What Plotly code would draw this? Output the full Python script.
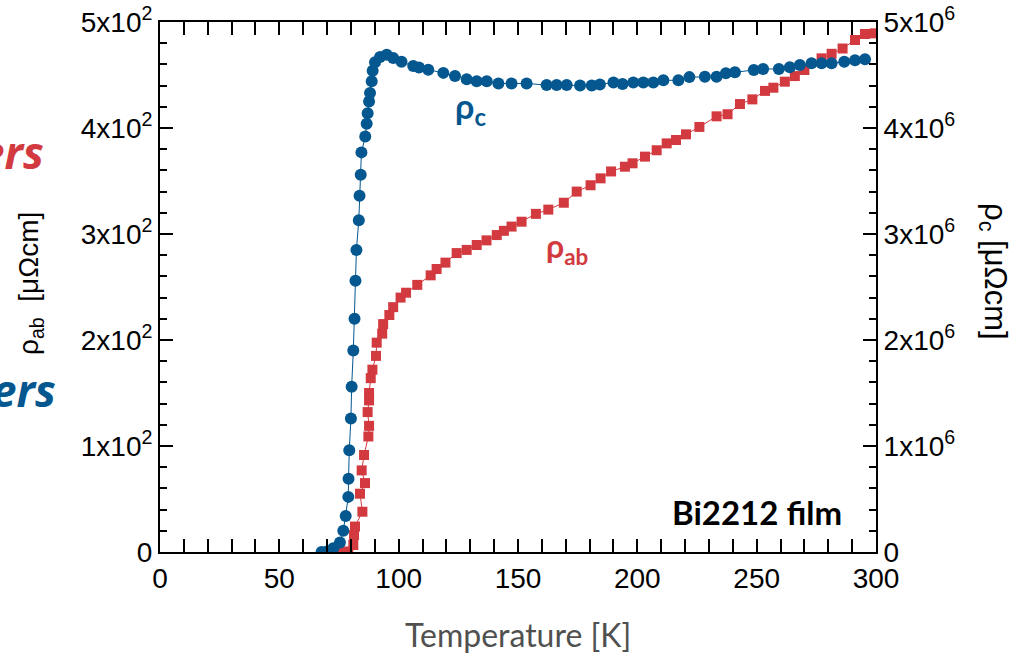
import plotly.graph_objects as go

# rho_c (blue, right axis, in uOhm cm) -- read in left-axis units then scaled x1e4
T_c = [67.7, 70.0, 72.6, 75.4, 76.8, 77.8, 78.9, 79.0, 79.3, 80.0, 80.3, 81.0, 81.5, 81.9, 82.3,
       83.3, 83.6, 84.1, 84.4, 86.0, 86.6, 87.0, 87.6, 88.0, 88.7, 89.1, 90.1, 92.2, 95.0, 97.7,
       101.2, 106.1, 108.5, 112.4, 118.7, 123.6, 128.5, 132.7, 136.9, 141.8, 147.3, 153.6, 162.0,
       166.2, 170.4, 176.0, 180.9, 184.3, 190.0, 193.8, 198.3, 202.5, 206.7, 210.9, 217.2, 221.8,
       228.3, 233.2, 237.1, 240.9, 248.8, 252.7, 259.3, 263.9, 268.1, 273.0, 277.2, 281.4, 286.7,
       291.2, 295.4]
rho_c_e4 = [0, 0.5, 3.5, 9, 20, 34, 52, 69, 96, 126, 156, 190, 220, 256, 285,
            313, 336, 356, 377, 392, 404, 414, 425, 433, 444, 454, 462, 467, 469, 466,
            462.5, 458.5, 457, 455, 452, 449, 446, 444, 444, 442, 442, 442, 440.5,
            440.5, 440.5, 440, 440, 441, 443, 441.5, 443, 443, 443, 445, 445, 448,
            448.4, 448.4, 451.6, 452.5, 454.7, 455.7, 455.7, 457.3, 459.4, 461, 461, 461, 462.5,
            464, 464.8]
rho_c = [v * 1e4 for v in rho_c_e4]

# rho_ab (red, left axis, uOhm cm)
T_ab = [72.0, 74.5, 76.1, 78.9, 81.0, 81.3, 81.7, 84.8, 83.8, 85.9, 84.5, 85.5, 87.3, 87.6, 87.0,
        87.6, 87.6, 88.3, 89.0, 90.5, 90.8, 93.1, 93.5, 96.1, 97.7, 100.8, 103.1, 107.8, 113.4,
        115.9, 119.6, 124.3, 128.5, 132.7, 136.8, 141.1, 144.1, 147.3, 151.5, 157.5, 162.7, 169.2,
        174.6, 180.4, 184.6, 189.0, 194.8, 198.0, 203.2, 208.1, 212.3, 216.2, 220.4, 226.0, 233.2,
        237.8, 243.0, 248.2, 253.5, 257.0, 261.8, 266.0, 270.0, 277.2, 281.4, 286.0, 291.2, 295.4,
        299.5]
rho_ab = [0, 0, 0, 0.5, 6.6, 16, 24, 38, 55, 65, 77, 91.5, 109, 119, 132,
          143, 150, 164, 172, 185, 197.5, 206, 215, 223.6, 231, 240, 244.6, 252, 261,
          267, 273, 282, 285, 289.6, 294, 299, 303, 307, 311.6, 319, 323, 329.5,
          340, 346, 352.5, 359, 363.5, 366.7, 373, 379, 385.5, 388.7, 394, 401, 411,
          413, 422.6, 427, 435, 438, 443.7, 449, 454.7, 465.7, 470, 475, 483, 488.7,
          489.3]

x_ticks = [0, 50, 100, 150, 200, 250, 300]
y_left_ticks = [0, 100, 200, 300, 400, 500]
y_left_text = ["0", "1x10<sup>2</sup>", "2x10<sup>2</sup>", "3x10<sup>2</sup>", "4x10<sup>2</sup>", "5x10<sup>2</sup>"]
y_right_ticks = [0, 1e6, 2e6, 3e6, 4e6, 5e6]
y_right_text = ["0", "1x10<sup>6</sup>", "2x10<sup>6</sup>", "3x10<sup>6</sup>", "4x10<sup>6</sup>", "5x10<sup>6</sup>"]

BLUE = "#04578F"
RED = "#D23A40"

fig = go.Figure()
fig.add_trace(go.Scatter(x=T_ab, y=rho_ab, mode="lines+markers", yaxis="y",
                         line=dict(color=RED, width=1),
                         marker=dict(symbol="square", size=10, color=RED),
                         showlegend=False))
fig.add_trace(go.Scatter(x=T_c, y=rho_c, mode="lines+markers", yaxis="y2",
                         line=dict(color=BLUE, width=1),
                         marker=dict(symbol="circle", size=12, color=BLUE),
                         showlegend=False))

ARIAL = "Liberation Sans"
tickfont = dict(family=ARIAL, size=28, color="black")
minor_x = dict(dtick=10, ticks="inside", ticklen=7, tickwidth=1.5, tickcolor="black")
fig.update_layout(
    width=1019, height=653,
    margin=dict(l=160, r=143, t=22, b=101, autoexpand=False),
    paper_bgcolor="white", plot_bgcolor="white",
    xaxis=dict(range=[0, 300], tickvals=x_ticks, ticks="inside", ticklen=13, tickwidth=2,
               tickcolor="black", showline=True, linecolor="black", linewidth=2,
               mirror="allticks", showgrid=False, zeroline=False, tickfont=tickfont,
               automargin=False, minor=minor_x),
    yaxis=dict(range=[0, 500], tickvals=y_left_ticks, ticktext=y_left_text, ticks="inside",
               ticklen=13, tickwidth=2, tickcolor="black", showline=True, linecolor="black",
               linewidth=2, showgrid=False, zeroline=False, tickfont=tickfont, automargin=False,
               minor=dict(dtick=20, ticks="inside", ticklen=7, tickwidth=1.5, tickcolor="black")),
    yaxis2=dict(range=[0, 5e6], overlaying="y", side="right", tickvals=y_right_ticks,
                ticktext=y_right_text, ticks="inside", ticklen=13, tickwidth=2, tickcolor="black",
                showline=True, linecolor="black", linewidth=2, showgrid=False, zeroline=False,
                tickfont=tickfont, automargin=False,
                minor=dict(dtick=2e5, ticks="inside", ticklen=7, tickwidth=1.5, tickcolor="black")),
)

# plot area in pixels: x 160..876, y 22..552
def px(xp):
    return (xp - 160) / 716.0

def py(yp):
    return (552 - yp) / 530.0

cal = "Lato"
ann = [
    dict(x=130, y=419, xref="x", yref="y", text="<b>ρ<sub>c</sub></b>", showarrow=False,
         font=dict(family=cal, size=34, color=BLUE)),
    dict(x=170.5, y=287, xref="x", yref="y", text="<b>ρ<sub>ab</sub></b>", showarrow=False,
         font=dict(family=cal, size=32, color=RED)),
    dict(x=250, y=38, xref="x", yref="y", text="<b>Bi2212 film</b>", showarrow=False,
         font=dict(family=cal, size=33, color="black")),
    dict(x=px(30), y=py(284), xref="paper", yref="paper", text="ρ<sub>ab</sub>&nbsp; [μΩcm]",
         textangle=-90, showarrow=False, xanchor="center", yanchor="middle",
         font=dict(family=ARIAL, size=28, color="black")),
    dict(x=px(993), y=py(272), xref="paper", yref="paper", text="ρ<sub>c</sub> [μΩcm]",
         textangle=90, showarrow=False, xanchor="center", yanchor="middle",
         font=dict(family=ARIAL, size=31, color="black")),
    dict(x=px(518), y=py(634), xref="paper", yref="paper", text="Temperature [K]",
         showarrow=False, xanchor="center", yanchor="middle",
         font=dict(family=cal, size=32, color="#505050")),
    dict(x=px(46), y=py(152), xref="paper", yref="paper", text="<b><i>ers</i></b>",
         showarrow=False, xanchor="right", yanchor="middle",
         font=dict(family="Open Sans", size=44, color=RED)),
    dict(x=px(58), y=py(390), xref="paper", yref="paper", text="<b><i>ers</i></b>",
         showarrow=False, xanchor="right", yanchor="middle",
         font=dict(family="Open Sans", size=44, color=BLUE)),
]
fig.update_layout(annotations=ann)

fig.write_html("out.html", config={"displayModeBar": False},
               post_script="document.documentElement.style.margin='0';"
                           "document.body.style.margin='0';"
                           "document.body.style.overflow='hidden';")
